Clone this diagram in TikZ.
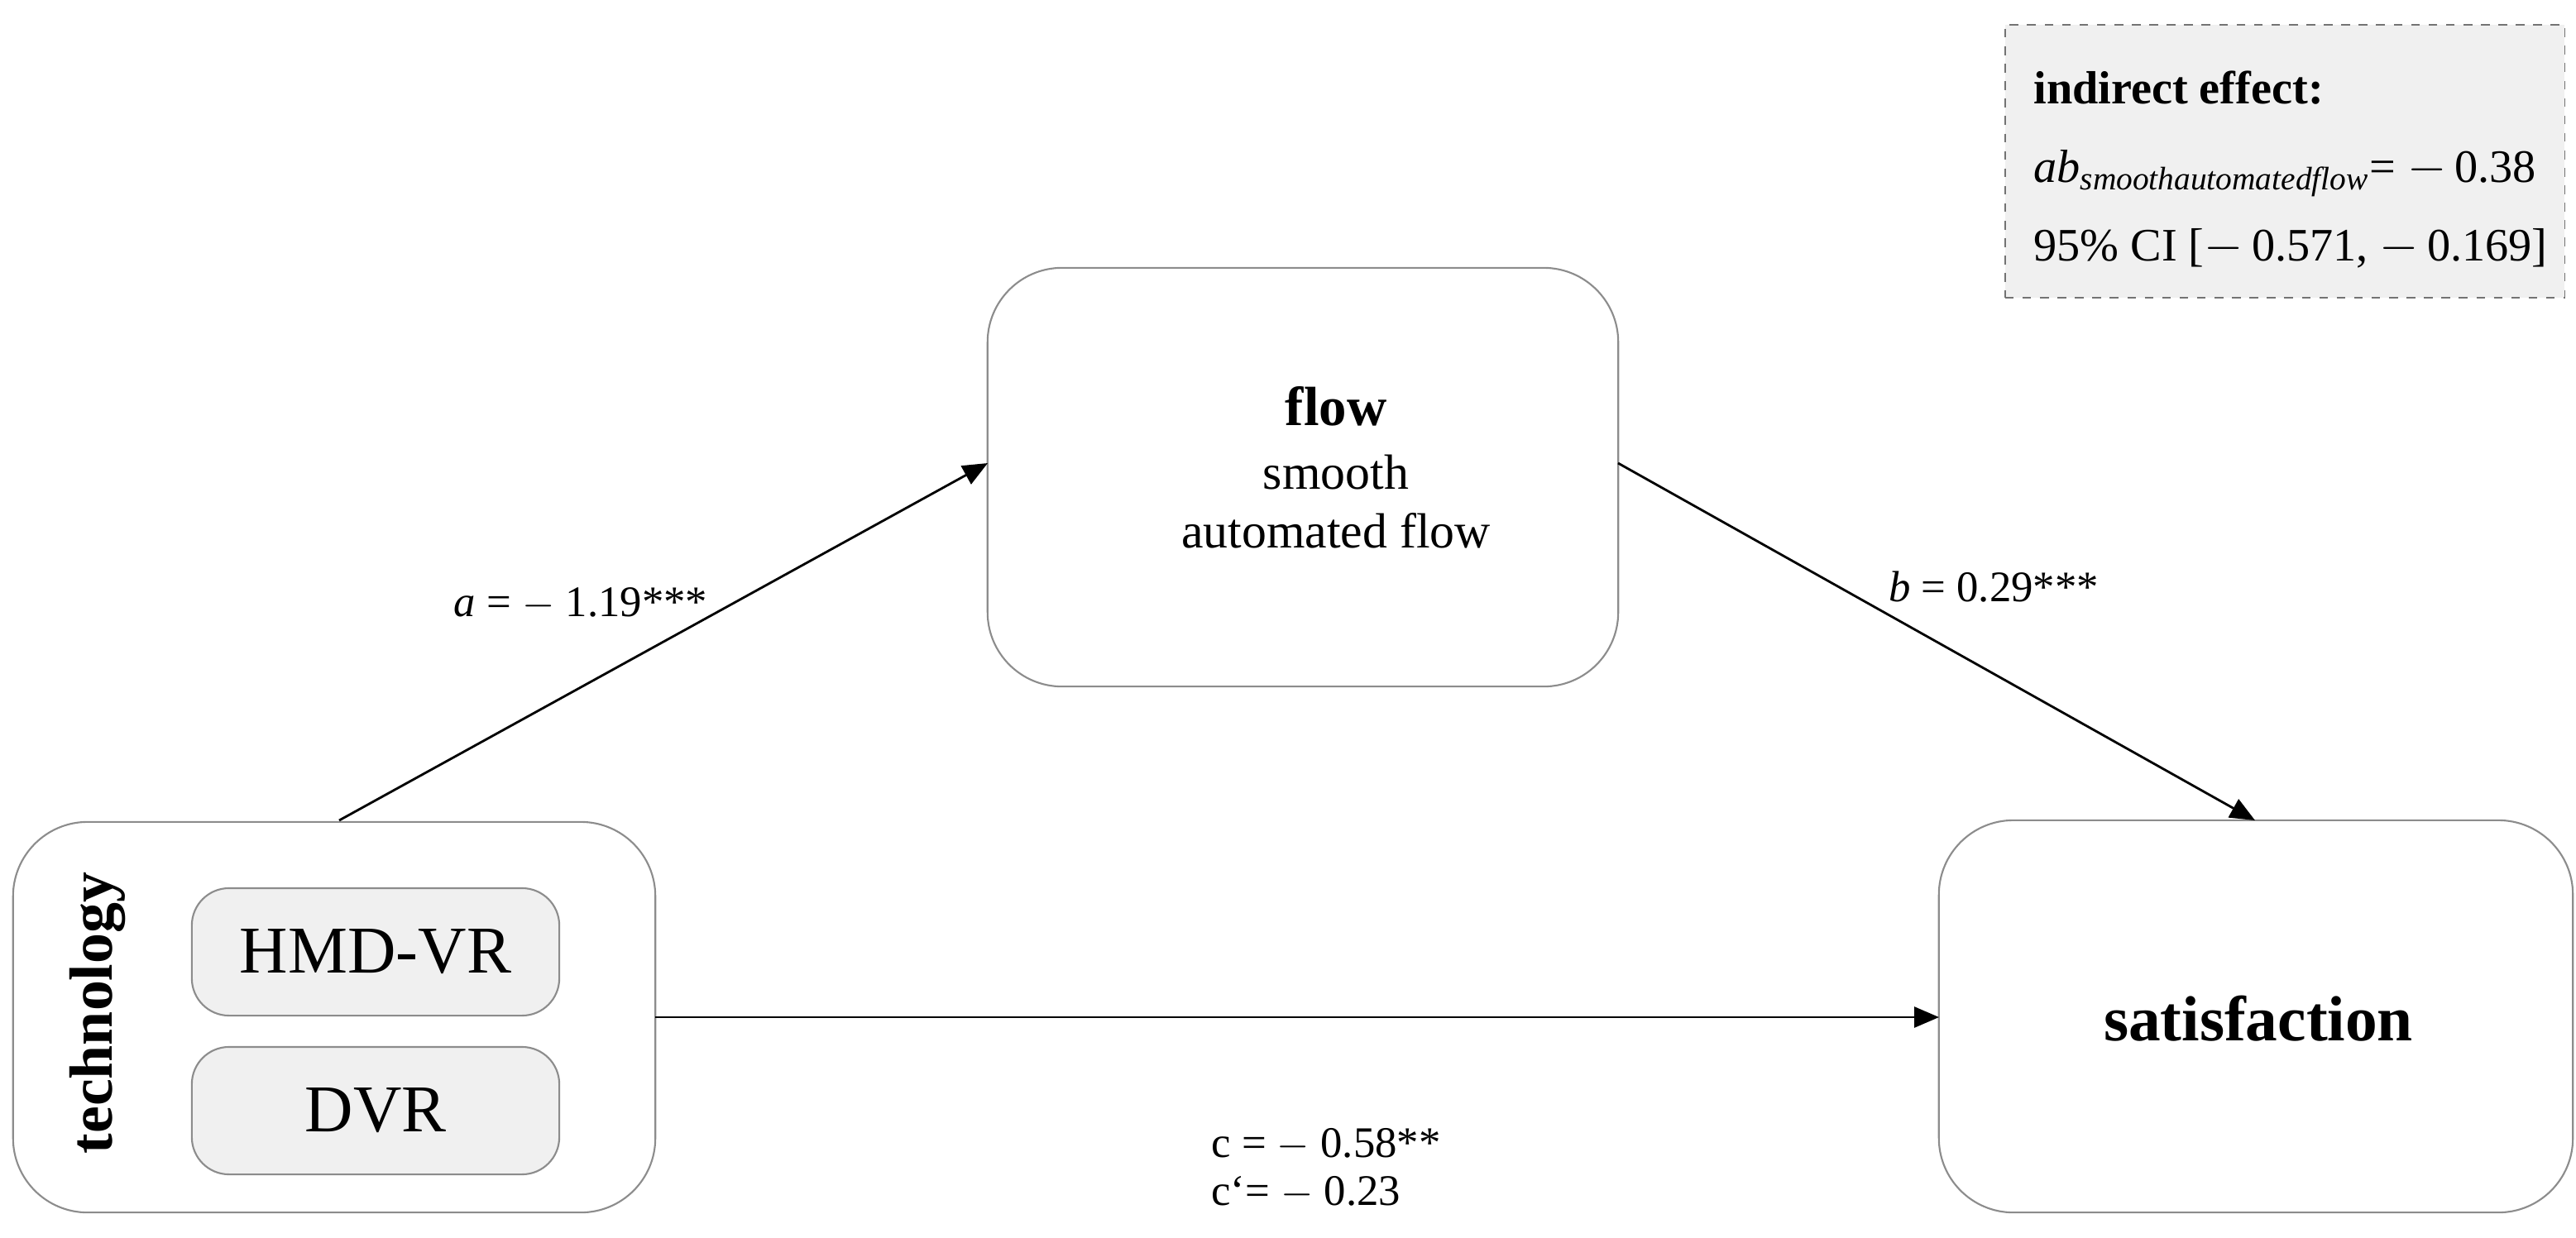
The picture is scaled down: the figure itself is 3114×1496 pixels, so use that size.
\documentclass[tikz,border=0pt]{standalone}
\usepackage{fontspec}
\setmainfont{Liberation Serif}
\usetikzlibrary{arrows.meta}
\begin{document}
\begin{tikzpicture}[x=0.01cm,y=-0.01cm,
  box/.style={draw=black!45,rounded corners=0.9cm,line width=0.6pt,fill=white},
  inner/.style={draw=black!45,fill=black!6,rounded corners=0.45cm,line width=0.6pt},
  arr/.style={-{Triangle[length=0.3cm,width=0.25cm]},line width=0.8pt},
  lbl/.style={font=\fontsize{15}{18}\selectfont}]
\useasboundingbox (0,0) rectangle (3114,1496);
\node[box,minimum width=7.62cm,minimum height=5.06cm] (flow) at (1575,577) {};
\node[font=\fontsize{17}{20}\selectfont,align=center] (flowt) at (1615,565) {\fontsize{19}{20}\selectfont\textbf{flow}\\[2pt]smooth\\automated flow};
\node[box,minimum width=7.66cm,minimum height=4.74cm] (sat) at (2727,1229) {};
\node[font=\bfseries\fontsize{22}{26}\selectfont] (satt) at (2730,1232) {satisfaction};
\node[box,minimum width=7.76cm,minimum height=4.72cm] (tech) at (404,1230) {};
\node[rotate=90,font=\bfseries\fontsize{21}{25}\selectfont] (techt) at (118,1225) {technology};
\node[inner,minimum width=4.44cm,minimum height=1.54cm,font=\fontsize{23}{28}\selectfont] (hmd) at (454,1151) {HMD-VR};
\node[inner,minimum width=4.44cm,minimum height=1.54cm,font=\fontsize{23}{28}\selectfont] (dvr) at (454,1343) {DVR};
\node[draw=black!55,dashed,fill=black!6,minimum width=6.76cm,minimum height=3.3cm] (ind) at (2762,195) {};
\node[anchor=west,font=\bfseries\fontsize{16}{19}\selectfont] (i1) at (2446,106) {indirect effect:};
\node[anchor=west,font=\fontsize{16}{19}\selectfont] (i2) at (2446,210) {$\mathit{ab}_{\mathit{smoothautomatedflow}}$= $-\,$0.38};
\node[anchor=west,font=\fontsize{16}{19}\selectfont] (i3) at (2446,300) {95\% CI [$-\,$0.571, $-\,$0.169]};
\coordinate (aS) at (410,992);
\coordinate (aE) at (1194,560);
\coordinate (bS) at (1956,560);
\coordinate (bE) at (2726,992);
\coordinate (cS) at (792,1230);
\coordinate (cE) at (2344,1230);
\draw[arr] (aS) -- (aE);
\draw[arr] (bS) -- (bE);
\draw[arr] (cS) -- (cE);
\node[lbl] (la) at (702,730) {\textit{a} = $-$ 1.19***};
\node[lbl] (lb) at (2410,710) {\textit{b} = 0.29***};
\node[lbl,anchor=west] (lc) at (1452,1384) {c = $-$ 0.58**};
\node[lbl,anchor=west] (lc2) at (1452,1442) {c`= $-$ 0.23};
\end{tikzpicture}
\end{document}
